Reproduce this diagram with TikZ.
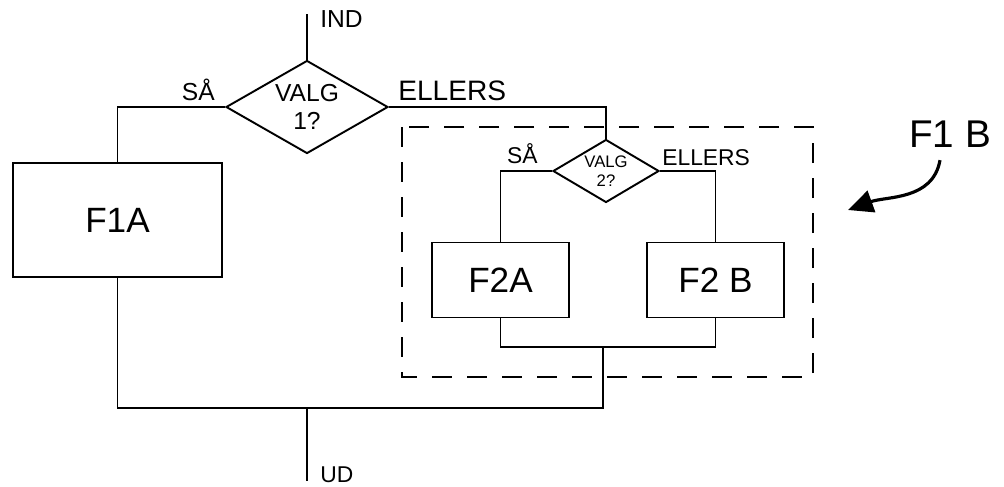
\documentclass[tikz,border=0pt]{standalone}
\usepackage{fontspec}
\setmainfont{Liberation Sans}
\usetikzlibrary{shapes.geometric,arrows.meta,positioning}
\tikzstyle{decision} = [diamond, draw=black, line width=1.1pt, inner sep=0pt, align=center]
\tikzstyle{process} = [rectangle, draw=black, line width=1.1pt, minimum width=2.74cm, minimum height=1.5cm, text centered, font=\fontsize{20}{24}\selectfont]
\tikzstyle{flowtext} = [inner sep=0pt, font=\fontsize{14}{16}\selectfont]
\tikzstyle{wire} = [line width=1.1pt]
\tikzstyle{groupbox} = [line width=1.4pt, dash pattern=on 0.4cm off 0.3cm]
\tikzstyle{pointer} = [line width=1.8pt, -{Triangle[length=0.5cm, width=0.45cm]}]

\begin{document}
\begin{tikzpicture}[node distance=2.2cm]
	\useasboundingbox (0,0) rectangle (20.08,-9.72);

	\node (valg1) [decision, aspect=1.74, minimum width=3.24cm, minimum height=1.86cm, font=\fontsize{14}{16}\selectfont] at (6.14,-2.14) {VALG\\1?};
	\node (f1a) [process, minimum width=4.18cm, minimum height=2.28cm, below of=valg1, node distance=2.26cm, xshift=-3.79cm] {F1A};

	\node (valg2) [decision, aspect=1.68, minimum width=2.12cm, minimum height=1.26cm, font=\fontsize{9.5}{11}\selectfont] at (12.12,-3.42) {VALG\\2?};
	\node (f2a) [process, below of=valg2, node distance=2.18cm, xshift=-2.11cm] {F2A};
	\node (f2b) [process, below of=valg2, node distance=2.18cm, xshift=2.19cm] {F2 B};

	\coordinate (in) at (6.14,-0.28);
	\coordinate (join2) at (12.06,-6.94);
	\coordinate (join1) at (6.14,-8.16);
	\coordinate (out) at (6.14,-9.62);

	% labels
	\node (ind) [flowtext, right=0.26cm of in, yshift=-0.1cm] {IND};
	\node (ud) [flowtext, font=\fontsize{13}{15}\selectfont, right=0.26cm of out, yshift=0.12cm] {UD};
	\node (saa1) [flowtext, above left=0.12cm and 0.2cm of valg1.west] {SÅ};
	\node (ellers1) [flowtext, font=\fontsize{16}{18}\selectfont, above right=0.12cm and 0.18cm of valg1.east] {ELLERS};
	\node (saa2) [flowtext, font=\fontsize{13}{15}\selectfont, above left=0.14cm and 0.28cm of valg2.west] {SÅ};
	\node (ellers2) [flowtext, font=\fontsize{13}{15}\selectfont, above right=0.1cm and 0.04cm of valg2.east] {ELLERS};
	\node (f1b) [flowtext, font=\fontsize{22}{26}\selectfont] at (19.0,-2.68) {F1 B};
	\coordinate (f1btip) at (16.96,-4.2);

	\draw[groupbox] (8.04,-2.54) rectangle (16.26,-7.54);

	\draw[wire] (in) -- (valg1);
	\draw[wire] (valg1.west) -| (f1a.north);
	\draw[wire] (valg1.east) -| (valg2.north);
	\draw[wire] (valg2.west) -| (f2a.north);
	\draw[wire] (valg2.east) -| (f2b.north);
	\draw[wire] (f2a.south) |- (join2) -| (f2b.south);
	\draw[wire] (join2) |- (join1);
	\draw[wire] (f1a.south) |- (join1);
	\draw[wire] (join1) -- (out);
	\draw[pointer] ([xshift=-0.2cm]f1b.south) ++(0,-0.25) to[out=-100, in=20] (f1btip);

\end{tikzpicture}
\end{document}
